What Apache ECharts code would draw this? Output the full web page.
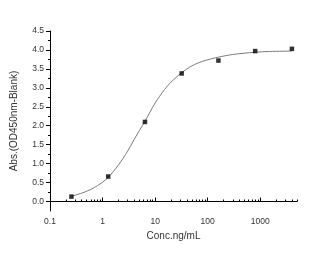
<!DOCTYPE html>
<html>
<head>
<meta charset="utf-8">
<style>
  html, body { margin: 0; padding: 0; background: #fff; }
  #chart { width: 314px; height: 256px; }
</style>
<script src="https://cdn.jsdelivr.net/npm/echarts@6/dist/echarts.min.js"></script>
</head>
<body>
<div id="chart"></div>
<script>
// measured points (conc ng/mL, abs)
const pointConc = [0.256, 1.28, 6.4, 32, 160, 800, 4000];
const pointAbs = [0.13, 0.66, 2.10, 3.38, 3.72, 3.97, 4.03];

// fitted curve
const curveConc = [0.256, 0.4, 0.6, 0.8, 1, 1.28, 2, 3, 4, 6.4, 10, 15, 20, 32, 50, 80, 160, 300, 800, 1500, 4000];
const curveAbs = [0.14, 0.22, 0.32, 0.42, 0.51, 0.64, 0.96, 1.33, 1.64, 2.12, 2.60, 2.95, 3.15, 3.40, 3.58, 3.70, 3.81, 3.88, 3.94, 3.96, 3.97];

const yMajor = [0, 0.5, 1, 1.5, 2, 2.5, 3, 3.5, 4, 4.5];
const yMinor = [0.25, 0.75, 1.25, 1.75, 2.25, 2.75, 3.25, 3.75, 4.25];
const xMajor = [0.1, 1, 10, 100, 1000];
const xMinor = [0.2, 0.3, 0.4, 0.5, 0.6, 0.7, 0.8, 0.9,
  2, 3, 4, 5, 6, 7, 8, 9,
  20, 30, 40, 50, 60, 70, 80, 90,
  200, 300, 400, 500, 600, 700, 800, 900,
  2000, 3000, 4000, 5000];

const font = 'Liberation Sans, Arial, sans-serif';
const textColor = '#333';

const chart = echarts.init(document.getElementById('chart'));

const option = {
  animation: false,
  grid: { left: 50, right: 17, top: 31, bottom: 45 },
  xAxis: [{
    type: 'log',
    logBase: 10,
    min: 0.1,
    max: 5000,
    position: 'bottom',
    name: 'Conc.ng/mL',
    nameLocation: 'middle',
    nameGap: 19,
    nameTextStyle: { fontFamily: font, fontSize: 10, color: textColor },
    axisLine: { lineStyle: { color: '#000', width: 1 } },
    axisTick: { inside: true, length: 4, customValues: xMajor, lineStyle: { color: '#000' } },
    axisLabel: {
      customValues: xMajor,
      fontFamily: font, fontSize: 8.5, color: textColor, margin: 6,
      formatter: v => String(v)
    },
    splitLine: { show: false }
  }, {
    type: 'log',
    logBase: 10,
    min: 0.1,
    max: 5000,
    position: 'bottom',
    axisLine: { show: false },
    axisTick: { inside: true, length: 2, customValues: xMinor, lineStyle: { color: '#000' } },
    axisLabel: { show: false },
    splitLine: { show: false }
  }],
  yAxis: [{
    type: 'value',
    min: -0.25,
    max: 4.5,
    position: 'left',
    name: 'Abs.(OD450nm-Blank)',
    nameLocation: 'middle',
    nameGap: 31,
    nameTextStyle: { fontFamily: font, fontSize: 10, color: textColor },
    axisLine: { show: true, lineStyle: { color: '#000', width: 1 } },
    axisTick: { show: true, length: 4, customValues: yMajor, lineStyle: { color: '#000' } },
    axisLabel: {
      customValues: yMajor,
      fontFamily: font, fontSize: 8.5, color: textColor, margin: 6,
      formatter: v => v.toFixed(1)
    },
    splitLine: { show: false }
  }, {
    type: 'value',
    min: -0.25,
    max: 4.5,
    position: 'left',
    axisLine: { show: false },
    axisTick: { show: true, length: 2, customValues: yMinor, lineStyle: { color: '#000' } },
    axisLabel: { show: false },
    splitLine: { show: false }
  }],
  series: [{
    type: 'line',
    data: curveConc.map((c, i) => [c, curveAbs[i]]),
    smooth: 0.3,
    showSymbol: false,
    lineStyle: { color: '#7a7a7a', width: 1 },
    z: 1
  }, {
    type: 'scatter',
    data: pointConc.map((c, i) => [c, pointAbs[i]]),
    symbol: 'rect',
    symbolSize: 4.5,
    itemStyle: { color: '#000' },
    z: 2
  }]
};

chart.setOption(option);
</script>
</body>
</html>
